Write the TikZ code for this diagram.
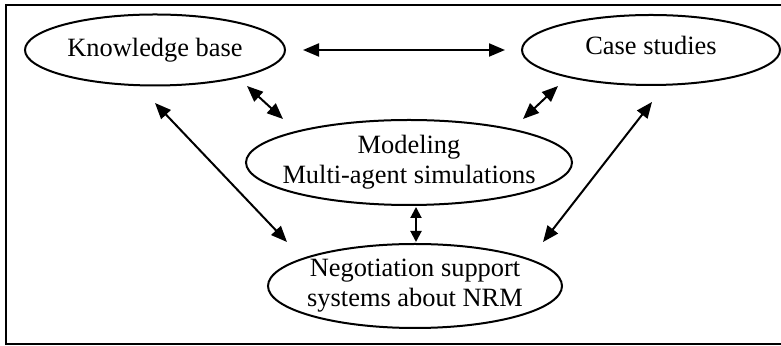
\documentclass[tikz,border=0pt]{standalone}
\usepackage{fontspec}
\setmainfont{Liberation Serif}
\usetikzlibrary{arrows.meta,shapes.geometric}
\begin{document}
\begin{tikzpicture}[x=0.5pt,y=-0.5pt,
  ell/.style={draw, ellipse, line width=1pt, inner xsep=-40pt, inner ysep=0pt,
    align=center, font=\fontsize{13.2}{15}\selectfont},
  conn/.style={{Triangle[length=8pt,width=6.5pt]}-{Triangle[length=8pt,width=6.5pt]}, line width=1pt},
  connsmall/.style={{Triangle[length=5.5pt,width=5.5pt]}-{Triangle[length=5.5pt,width=5.5pt]}, line width=1pt}]
\useasboundingbox (0,0) rectangle (781,346);
% frame (open on the right)
\draw[line width=1pt] (781,5) -- (5.5,5) -- (5.5,344) -- (781,344);
% nodes
\node[ell, minimum width=130pt, minimum height=35.5pt] (kb) at (155,50) {Knowledge base};
\node[ell, minimum width=129pt, minimum height=35pt, text height=0.683em, text depth=0.217em] (cs) at (651,50) {Case studies};
\node[ell, minimum width=163pt, minimum height=42.5pt] (mod) at (409,162.5) {Modeling\\Multi-agent simulations};
\node[ell, minimum width=147pt, minimum height=42pt] (neg) at (415,286) {Negotiation support\\systems about NRM};
% connector end points
\coordinate (kbR) at (303,50);
\coordinate (csL) at (505,50);
\coordinate (kbM) at (247,86);
\coordinate (modL) at (283,119);
\coordinate (csM) at (558,86);
\coordinate (modR) at (523,119);
\coordinate (kbN) at (155,103);
\coordinate (negL) at (287,242);
\coordinate (csN) at (652,102);
\coordinate (negR) at (543,242);
\coordinate (modB) at (416,207);
\coordinate (negT) at (416,242);
% connectors
\draw[conn] (kbR) -- (csL);
\draw[conn] (kbM) -- (modL);
\draw[conn] (csM) -- (modR);
\draw[conn] (kbN) -- (negL);
\draw[conn] (csN) -- (negR);
\draw[connsmall] (modB) -- (negT);
\end{tikzpicture}
\end{document}
